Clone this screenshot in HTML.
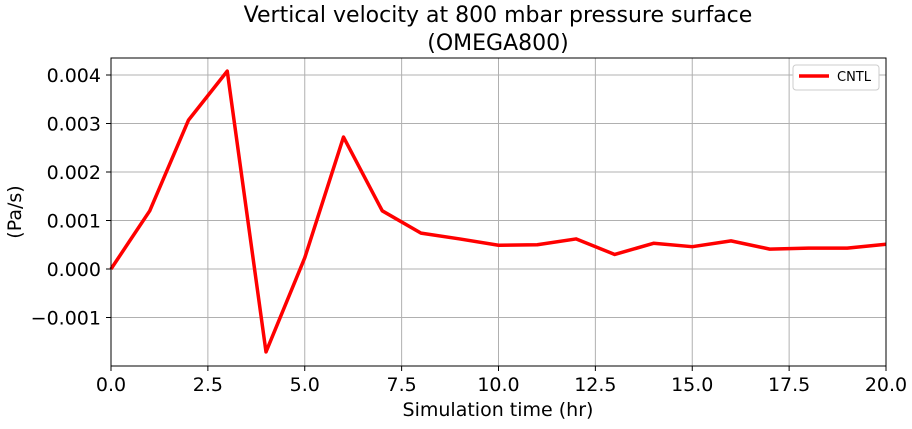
<!DOCTYPE html>
<html><head><meta charset="utf-8"><style>
body{margin:0;background:#fff;}
svg text{font-family:"DejaVu Sans","Liberation Sans",sans-serif;fill:#000;}
</style></head><body>
<svg id="chart" width="912" height="424" xmlns="http://www.w3.org/2000/svg">
<g id="grid"></g>
<g id="xticks"></g>
<g id="yticks"></g>
<g id="series"></g>
<rect x="111" y="58" width="775" height="308" fill="none" stroke="#000" stroke-width="1"/>
<text x="498" y="22" font-size="22" text-anchor="middle">Vertical velocity at 800 mbar pressure surface</text>
<text x="498" y="50" font-size="22" text-anchor="middle">(OMEGA800)</text>
<text x="498" y="416" font-size="19" text-anchor="middle">Simulation time (hr)</text>
<text x="21" y="212" font-size="19" text-anchor="middle" transform="rotate(-90 21 212)">(Pa/s)</text>
<g>
<rect x="793" y="65" width="86" height="25" rx="3" fill="#fff" stroke="#ccc"/>
<line x1="799" y1="76" x2="829" y2="76" stroke="#f00" stroke-width="3.5"/>
<text x="837" y="81" font-size="13">CNTL</text>
</g>
</svg>
<script>
const times=[0,1,2,3,4,5,6,7,8,9,10,11,12,13,14,15,16,17,18,19,20];
const omega=[0,0.0012,0.00307,0.00408,-0.00171,0.00023,0.00272,0.0012,0.00074,0.00062,0.00049,0.0005,0.00062,0.0003,0.00053,0.00046,0.00058,0.00041,0.00043,0.00043,0.00051];
const xTickVals=[0,2.5,5,7.5,10,12.5,15,17.5,20];
const xTickLabels=["0.0","2.5","5.0","7.5","10.0","12.5","15.0","17.5","20.0"];
const yTickVals=[-0.001,0,0.001,0.002,0.003,0.004];
const yTickLabels=["\u22120.001","0.000","0.001","0.002","0.003","0.004"];
const NS="http://www.w3.org/2000/svg";
const X=v=>111+(v-0)*(775/20);
const Y=v=>269-v*48500;
function mk(t,a,p){const e=document.createElementNS(NS,t);for(const k in a)e.setAttribute(k,a[k]);p.appendChild(e);return e;}
const g=document.getElementById('grid'),xt=document.getElementById('xticks'),yt=document.getElementById('yticks');
xTickVals.forEach((v,i)=>{
 const l=mk('line',{x1:X(v),x2:X(v),y1:58,y2:366,stroke:'#b0b0b0','stroke-width':1},g);
 
 mk('line',{x1:X(v),x2:X(v),y1:366,y2:371,stroke:'#000'},xt);
 const t=mk('text',{x:X(v),y:391,'font-size':19,'text-anchor':'middle'},xt);t.textContent=xTickLabels[i];
 
});
yTickVals.forEach((v,i)=>{
 const l=mk('line',{x1:111,x2:886,y1:Y(v),y2:Y(v),stroke:'#b0b0b0','stroke-width':1},g);
 
 mk('line',{x1:106,x2:111,y1:Y(v),y2:Y(v),stroke:'#000'},yt);
 const t=mk('text',{x:101,y:Y(v)+7,'font-size':19,'text-anchor':'end'},yt);t.textContent=yTickLabels[i];
 
});
const pts=times.map((t,i)=>X(t)+','+Y(omega[i])).join(' ');
const pl=mk('polyline',{points:pts,fill:'none',stroke:'#f00','stroke-width':3.5,'stroke-linejoin':'round'},document.getElementById('series'));


</script>
</body></html>
